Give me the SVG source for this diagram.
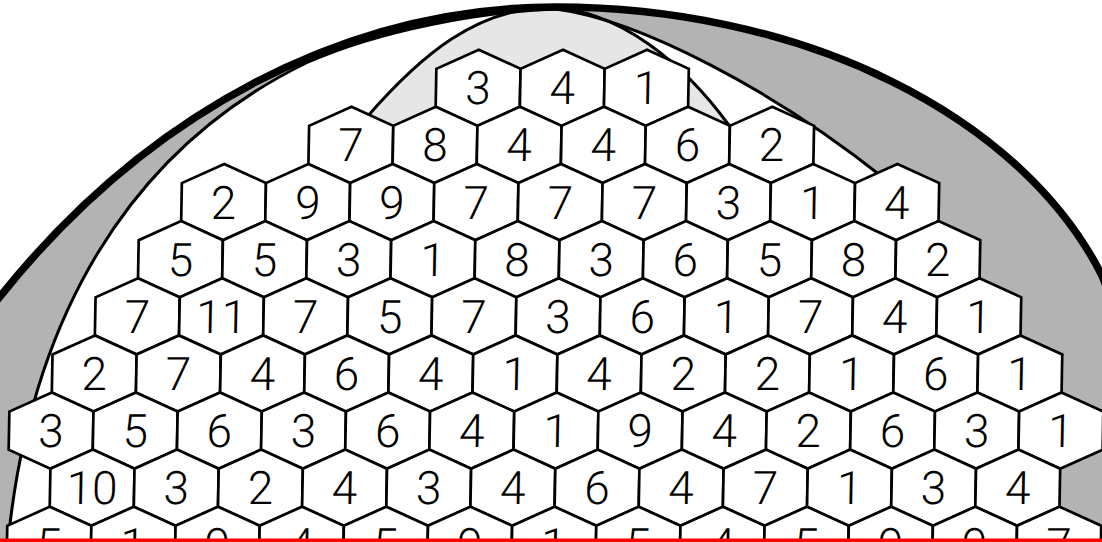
<svg xmlns="http://www.w3.org/2000/svg" width="1102" height="542" viewBox="0 0 1102 542">
<defs>
<polygon id="hx" points="0,-38.1 42.075,-19.05 42.075,19.05 0,38.1 -42.075,19.05 -42.075,-19.05"/>
</defs>
<style>
.hex use{fill:#fff;stroke:#000;stroke-width:2.7;stroke-linejoin:miter}
.hex text{font-family:Roboto,"Liberation Sans",sans-serif;font-weight:300;font-size:46px;text-anchor:middle;fill:#000}
.ring{fill:#b3b3b3;stroke:none}
.dome{fill:#e6e6e6;stroke:#000;stroke-width:3}
.inner{fill:none;stroke:#000;stroke-width:3}
.outer{fill:none;stroke:#000;stroke-width:7.5}
</style>
<rect width="1102" height="542" fill="#fff"/>
<g id="background">
<path class="ring" d="M8,542 C30,322 126,151 306,63 C380,30 480,12 556,9 C640,20 775,91 885,179 C960,239 1010,330 1030,542 L1112,542 L1112,300 L1102,275.7 A578,400 0 0 0 556,7 A790,1000 0 0 0 0,296.6 L-8,306 L-8,542 Z"/>
<path id="dome" class="dome" d="M330,160 L367,117 C422,53.75 478,8 548,8 C618,8 684.5,63.9 729.5,126 L752,157 Z"/>
<path id="inner-arc" class="inner" d="M6,560 L8,542 C30,322 126,151 306,63 C380,30 480,12 556,9 C640,20 775,91 885,179 C960,239 1010,330 1030,542"/>
<path id="outer-arc" class="outer" d="M-8,306 L0,296.6 A790,1000 0 0 1 556,7 A578,400 0 0 1 1102,275.7 L1110,296"/>
</g>
<g id="grid" class="hex" transform="skewX(-1.0526)">
<g id="h1-10" transform="translate(479.7,87.8)"><use href="#hx"/><text y="16.5">3</text></g>
<g id="h1-12" transform="translate(563.9,87.8)"><use href="#hx"/><text y="16.5">4</text></g>
<g id="h1-14" transform="translate(648.0,87.8)"><use href="#hx"/><text y="16.5">1</text></g>

<g id="h2-7" transform="translate(353.5,144.9)"><use href="#hx"/><text y="16.5">7</text></g>
<g id="h2-9" transform="translate(437.7,144.9)"><use href="#hx"/><text y="16.5">8</text></g>
<g id="h2-11" transform="translate(521.8,144.9)"><use href="#hx"/><text y="16.5">4</text></g>
<g id="h2-13" transform="translate(606.0,144.9)"><use href="#hx"/><text y="16.5">4</text></g>
<g id="h2-15" transform="translate(690.1,144.9)"><use href="#hx"/><text y="16.5">6</text></g>
<g id="h2-17" transform="translate(774.3,144.9)"><use href="#hx"/><text y="16.5">2</text></g>

<g id="h3-4" transform="translate(227.3,202.1)"><use href="#hx"/><text y="16.5">2</text></g>
<g id="h3-6" transform="translate(311.4,202.1)"><use href="#hx"/><text y="16.5">9</text></g>
<g id="h3-8" transform="translate(395.6,202.1)"><use href="#hx"/><text y="16.5">9</text></g>
<g id="h3-10" transform="translate(479.7,202.1)"><use href="#hx"/><text y="16.5">7</text></g>
<g id="h3-12" transform="translate(563.9,202.1)"><use href="#hx"/><text y="16.5">7</text></g>
<g id="h3-14" transform="translate(648.0,202.1)"><use href="#hx"/><text y="16.5">7</text></g>
<g id="h3-16" transform="translate(732.2,202.1)"><use href="#hx"/><text y="16.5">3</text></g>
<g id="h3-18" transform="translate(816.3,202.1)"><use href="#hx"/><text y="16.5">1</text></g>
<g id="h3-20" transform="translate(900.5,202.1)"><use href="#hx"/><text y="16.5">4</text></g>

<g id="h4-3" transform="translate(185.2,259.2)"><use href="#hx"/><text y="16.5">5</text></g>
<g id="h4-5" transform="translate(269.4,259.2)"><use href="#hx"/><text y="16.5">5</text></g>
<g id="h4-7" transform="translate(353.5,259.2)"><use href="#hx"/><text y="16.5">3</text></g>
<g id="h4-9" transform="translate(437.7,259.2)"><use href="#hx"/><text y="16.5">1</text></g>
<g id="h4-11" transform="translate(521.8,259.2)"><use href="#hx"/><text y="16.5">8</text></g>
<g id="h4-13" transform="translate(606.0,259.2)"><use href="#hx"/><text y="16.5">3</text></g>
<g id="h4-15" transform="translate(690.1,259.2)"><use href="#hx"/><text y="16.5">6</text></g>
<g id="h4-17" transform="translate(774.3,259.2)"><use href="#hx"/><text y="16.5">5</text></g>
<g id="h4-19" transform="translate(858.4,259.2)"><use href="#hx"/><text y="16.5">8</text></g>
<g id="h4-21" transform="translate(942.6,259.2)"><use href="#hx"/><text y="16.5">2</text></g>

<g id="h5-2" transform="translate(143.1,316.3)"><use href="#hx"/><text y="16.5">7</text></g>
<g id="h5-4" transform="translate(227.3,316.3)"><use href="#hx"/><text y="16.5">11</text></g>
<g id="h5-6" transform="translate(311.4,316.3)"><use href="#hx"/><text y="16.5">7</text></g>
<g id="h5-8" transform="translate(395.6,316.3)"><use href="#hx"/><text y="16.5">5</text></g>
<g id="h5-10" transform="translate(479.7,316.3)"><use href="#hx"/><text y="16.5">7</text></g>
<g id="h5-12" transform="translate(563.9,316.3)"><use href="#hx"/><text y="16.5">3</text></g>
<g id="h5-14" transform="translate(648.0,316.3)"><use href="#hx"/><text y="16.5">6</text></g>
<g id="h5-16" transform="translate(732.2,316.3)"><use href="#hx"/><text y="16.5">1</text></g>
<g id="h5-18" transform="translate(816.3,316.3)"><use href="#hx"/><text y="16.5">7</text></g>
<g id="h5-20" transform="translate(900.5,316.3)"><use href="#hx"/><text y="16.5">4</text></g>
<g id="h5-22" transform="translate(984.6,316.3)"><use href="#hx"/><text y="16.5">1</text></g>

<g id="h6-1" transform="translate(101.1,373.5)"><use href="#hx"/><text y="16.5">2</text></g>
<g id="h6-3" transform="translate(185.2,373.5)"><use href="#hx"/><text y="16.5">7</text></g>
<g id="h6-5" transform="translate(269.4,373.5)"><use href="#hx"/><text y="16.5">4</text></g>
<g id="h6-7" transform="translate(353.5,373.5)"><use href="#hx"/><text y="16.5">6</text></g>
<g id="h6-9" transform="translate(437.7,373.5)"><use href="#hx"/><text y="16.5">4</text></g>
<g id="h6-11" transform="translate(521.8,373.5)"><use href="#hx"/><text y="16.5">1</text></g>
<g id="h6-13" transform="translate(606.0,373.5)"><use href="#hx"/><text y="16.5">4</text></g>
<g id="h6-15" transform="translate(690.1,373.5)"><use href="#hx"/><text y="16.5">2</text></g>
<g id="h6-17" transform="translate(774.3,373.5)"><use href="#hx"/><text y="16.5">2</text></g>
<g id="h6-19" transform="translate(858.4,373.5)"><use href="#hx"/><text y="16.5">1</text></g>
<g id="h6-21" transform="translate(942.6,373.5)"><use href="#hx"/><text y="16.5">6</text></g>
<g id="h6-23" transform="translate(1026.7,373.5)"><use href="#hx"/><text y="16.5">1</text></g>

<g id="h7-0" transform="translate(59.0,430.6)"><use href="#hx"/><text y="16.5">3</text></g>
<g id="h7-2" transform="translate(143.1,430.6)"><use href="#hx"/><text y="16.5">5</text></g>
<g id="h7-4" transform="translate(227.3,430.6)"><use href="#hx"/><text y="16.5">6</text></g>
<g id="h7-6" transform="translate(311.4,430.6)"><use href="#hx"/><text y="16.5">3</text></g>
<g id="h7-8" transform="translate(395.6,430.6)"><use href="#hx"/><text y="16.5">6</text></g>
<g id="h7-10" transform="translate(479.7,430.6)"><use href="#hx"/><text y="16.5">4</text></g>
<g id="h7-12" transform="translate(563.9,430.6)"><use href="#hx"/><text y="16.5">1</text></g>
<g id="h7-14" transform="translate(648.0,430.6)"><use href="#hx"/><text y="16.5">9</text></g>
<g id="h7-16" transform="translate(732.2,430.6)"><use href="#hx"/><text y="16.5">4</text></g>
<g id="h7-18" transform="translate(816.3,430.6)"><use href="#hx"/><text y="16.5">2</text></g>
<g id="h7-20" transform="translate(900.5,430.6)"><use href="#hx"/><text y="16.5">6</text></g>
<g id="h7-22" transform="translate(984.6,430.6)"><use href="#hx"/><text y="16.5">3</text></g>
<g id="h7-24" transform="translate(1068.8,430.6)"><use href="#hx"/><text y="16.5">1</text></g>

<g id="h8-1" transform="translate(101.1,487.7)"><use href="#hx"/><text y="16.5">10</text></g>
<g id="h8-3" transform="translate(185.2,487.7)"><use href="#hx"/><text y="16.5">3</text></g>
<g id="h8-5" transform="translate(269.4,487.7)"><use href="#hx"/><text y="16.5">2</text></g>
<g id="h8-7" transform="translate(353.5,487.7)"><use href="#hx"/><text y="16.5">4</text></g>
<g id="h8-9" transform="translate(437.7,487.7)"><use href="#hx"/><text y="16.5">3</text></g>
<g id="h8-11" transform="translate(521.8,487.7)"><use href="#hx"/><text y="16.5">4</text></g>
<g id="h8-13" transform="translate(606.0,487.7)"><use href="#hx"/><text y="16.5">6</text></g>
<g id="h8-15" transform="translate(690.1,487.7)"><use href="#hx"/><text y="16.5">4</text></g>
<g id="h8-17" transform="translate(774.3,487.7)"><use href="#hx"/><text y="16.5">7</text></g>
<g id="h8-19" transform="translate(858.4,487.7)"><use href="#hx"/><text y="16.5">1</text></g>
<g id="h8-21" transform="translate(942.6,487.7)"><use href="#hx"/><text y="16.5">3</text></g>
<g id="h8-23" transform="translate(1026.7,487.7)"><use href="#hx"/><text y="16.5">4</text></g>

<g id="h9-0" transform="translate(59.0,544.8)"><use href="#hx"/><text y="16.5">5</text></g>
<g id="h9-2" transform="translate(143.1,544.8)"><use href="#hx"/><text y="16.5">1</text></g>
<g id="h9-4" transform="translate(227.3,544.8)"><use href="#hx"/><text y="16.5">9</text></g>
<g id="h9-6" transform="translate(311.4,544.8)"><use href="#hx"/><text y="16.5">4</text></g>
<g id="h9-8" transform="translate(395.6,544.8)"><use href="#hx"/><text y="16.5">5</text></g>
<g id="h9-10" transform="translate(479.7,544.8)"><use href="#hx"/><text y="16.5">9</text></g>
<g id="h9-12" transform="translate(563.9,544.8)"><use href="#hx"/><text y="16.5">1</text></g>
<g id="h9-14" transform="translate(648.0,544.8)"><use href="#hx"/><text y="16.5">5</text></g>
<g id="h9-16" transform="translate(732.2,544.8)"><use href="#hx"/><text y="16.5">4</text></g>
<g id="h9-18" transform="translate(816.3,544.8)"><use href="#hx"/><text y="16.5">5</text></g>
<g id="h9-20" transform="translate(900.5,544.8)"><use href="#hx"/><text y="16.5">9</text></g>
<g id="h9-22" transform="translate(984.6,544.8)"><use href="#hx"/><text y="16.5">9</text></g>
<g id="h9-24" transform="translate(1068.8,544.8)"><use href="#hx"/><text y="16.5">7</text></g>
</g>
<rect id="red-bar" x="0" y="538.5" width="1102" height="4" fill="#f00"/>
</svg>
